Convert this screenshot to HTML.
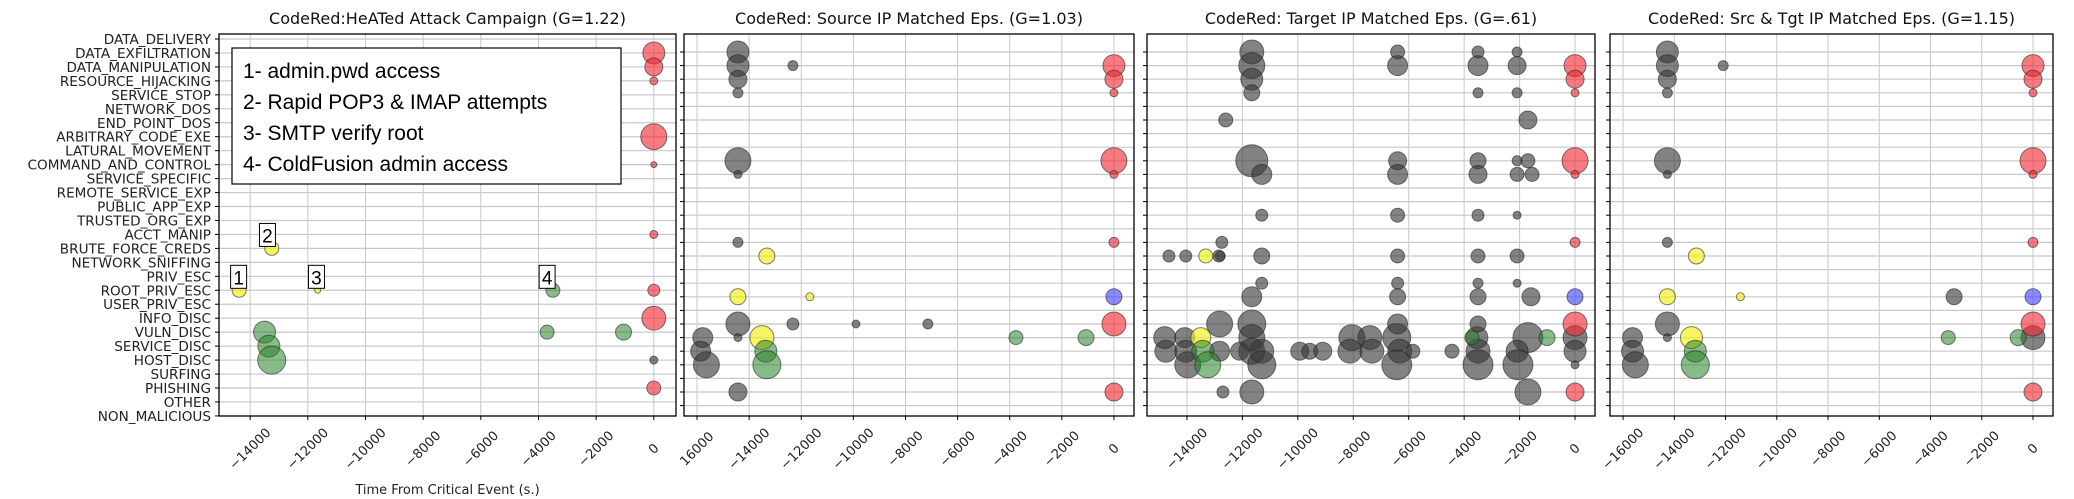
<!DOCTYPE html>
<html><head><meta charset="utf-8"><style>
html,body{margin:0;padding:0;background:#fff;}
svg{display:block;font-family:"DejaVu Sans","Liberation Sans",sans-serif;}
</style></head><body>
<svg id="chart" width="2074" height="499" viewBox="0 0 2074 499" xmlns="http://www.w3.org/2000/svg"></svg>
<script>
const categories=["DATA_DELIVERY","DATA_EXFILTRATION","DATA_MANIPULATION","RESOURCE_HIJACKING","SERVICE_STOP","NETWORK_DOS","END_POINT_DOS","ARBITRARY_CODE_EXE","LATURAL_MOVEMENT","COMMAND_AND_CONTROL","SERVICE_SPECIFIC","REMOTE_SERVICE_EXP","PUBLIC_APP_EXP","TRUSTED_ORG_EXP","ACCT_MANIP","BRUTE_FORCE_CREDS","NETWORK_SNIFFING","PRIV_ESC","ROOT_PRIV_ESC","USER_PRIV_ESC","INFO_DISC","VULN_DISC","SERVICE_DISC","HOST_DISC","SURFING","PHISHING","OTHER","NON_MALICIOUS"];
const titles=["CodeRed:HeATed Attack Campaign (G=1.22)","CodeRed: Source IP Matched Eps. (G=1.03)","CodeRed: Target IP Matched Eps. (G=.61)","CodeRed: Src & Tgt IP Matched Eps. (G=1.15)"];
const ticks1=[-14000,-12000,-10000,-8000,-6000,-4000,-2000,0];
const ticks2=[-16000,-14000,-12000,-10000,-8000,-6000,-4000,-2000,0];
const tickLabels1=["−14000","−12000","−10000","−8000","−6000","−4000","−2000","0"];
const tickLabels2=["16000","−14000","−12000","−10000","−8000","−6000","−4000","−2000","0"];
const tickLabels4=["−16000","−14000","−12000","−10000","−8000","−6000","−4000","−2000","0"];
const legendItems=["1- admin.pwd access","2- Rapid POP3 & IMAP attempts","3- SMTP verify root","4- ColdFusion admin access"];
const annoLabels=["1","2","3","4"];
const annoX=[-14400,-13400,-11700,-3700];
const annoRow=[17,14,17,17];

// Panel 1 data
const p1X=[0,0,0,0,0,0,0,0,0,0,-14380,-13250,-11660,-13500,-13350,-13250,-3500,-3700,-1050];
const p1Row=[1,2,3,7,9,14,18,20,23,25,18,15,18,21,22,23,18,21,21];
const p1R=[11,9,4,13,3,4,6,12,4,7,7,7,3,11,11,14,7,7,8];
const p1C=["r","r","r","r","r","r","r","r","k","r","y","y","y","g","g","g","g","g","g"];
// Panel 2 data
const p2X=[-14430,-14430,-14430,-14430,-14430,-14430,-14430,-14430,-14430,-12320,-12320,-9900,-7140,-15780,-15860,-15640,-14430,-13320,-14430,-11670,-13510,-13360,-13320,-3760,-1070,0,0,0,0,0,0,0,0,0];
const p2Row=[0,1,2,3,8,9,14,20,21,1,20,20,20,21,22,23,25,15,18,18,21,22,23,21,21,1,2,3,8,9,14,18,20,25];
const p2R=[11,11,9,5,13,4,5,12,4,5,6,4,5,10,10,13,9,8,8,4,12,11,14,7,8,11,9,4,13,4,5,8,12,9];
const p2C=["k","k","k","k","k","k","k","k","k","k","k","k","k","k","k","k","k","y","y","y","y","g","g","g","g","r","r","r","r","r","r","b","r","r"];
// Panel 3 data
const p3X=[-11660,-11660,-11660,-11660,-11660,-11660,-11660,-11660,-11660,-11660,-11300,-11300,-11300,-11300,-11300,-11300,-12600,-12740,-12800,-12820,-14650,-14040,-12850,-14800,-14080,-14760,-14040,-12820,-12100,-13970,-12700,-8050,-7400,-6430,-3540,-1700,-9930,-9570,-9100,-8120,-7330,-6320,-5850,-4440,-3500,-2090,-6430,-3500,-2060,-6400,-6400,-6400,-6400,-6400,-6400,-6400,-6400,-6400,-3500,-3500,-3500,-3500,-3500,-3500,-3500,-3500,-3500,-3500,-2090,-2090,-2090,-2090,-2090,-2090,-2090,-2090,-1700,-1700,-1550,-1590,-1700,0,0,0,0,0,0,0,0,0,-13320,-13500,-13430,-13250,-3720,-1010,0,0,0];
const p3Row=[0,1,2,3,8,20,21,22,25,18,9,12,15,17,23,22,5,14,15,20,15,15,15,21,21,22,22,22,22,23,25,21,21,21,21,21,22,22,22,22,22,22,22,22,22,22,23,23,23,0,1,8,9,12,15,17,18,20,0,1,3,8,9,12,15,17,18,20,0,1,3,8,9,12,15,17,5,8,9,18,25,21,22,23,1,2,3,8,9,14,15,21,22,23,21,21,18,20,25];
const p3R=[12,13,11,8,16,14,13,13,12,10,10,6,8,6,14,12,7,6,5,13,6,6,6,11,10,11,11,10,9,13,6,13,12,14,11,15,9,8,9,12,12,12,7,7,12,11,15,15,15,7,10,9,10,7,7,6,8,10,6,10,5,8,9,6,7,5,8,8,5,9,5,5,7,4,7,4,9,7,7,9,13,12,11,4,11,9,4,13,4,5,7,10,11,13,7,8,8,12,9];
const p3C=["k","k","k","k","k","k","k","k","k","k","k","k","k","k","k","k","k","k","k","k","k","k","k","k","k","k","k","k","k","k","k","k","k","k","k","k","k","k","k","k","k","k","k","k","k","k","k","k","k","k","k","k","k","k","k","k","k","k","k","k","k","k","k","k","k","k","k","k","k","k","k","k","k","k","k","k","k","k","k","k","k","k","k","k","r","r","r","r","r","r","y","y","g","g","g","g","b","r","r"];
// Panel 4 data
const p4X=[-14270,-14270,-14270,-14270,-14270,-14270,-14270,-14270,-14270,-12090,-3080,-15630,-15630,-15520,0,-14270,-13140,-11420,-13330,-13180,-13180,-3310,-580,0,0,0,0,0,0,0,0,0];
const p4Row=[0,1,2,3,8,9,14,20,21,1,18,21,22,23,21,18,15,18,21,22,23,21,21,1,2,3,8,9,14,18,20,25];
const p4R=[11,11,9,5,13,4,5,12,4,5,8,10,11,13,12,8,8,4,11,11,14,7,8,11,9,4,13,4,5,8,12,9];
const p4C=["k","k","k","k","k","k","k","k","k","k","k","k","k","k","k","y","y","y","y","g","g","g","g","r","r","r","r","r","r","b","r","r"];

const NS="http://www.w3.org/2000/svg";
const svg=document.getElementById('chart');
function mk(tag,attrs,parent){const e=document.createElementNS(NS,tag);for(const k in attrs)e.setAttribute(k,attrs[k]);(parent||svg).appendChild(e);return e;}
const fills={r:"rgba(240,40,50,0.62)",k:"rgba(55,55,55,0.62)",y:"rgba(240,240,20,0.65)",g:"rgba(40,130,40,0.55)",b:"rgba(60,60,255,0.6)"};

const panels=[
 {l:219,r:676,x0:-15080,x1:770,y0:39,dy:13.96,ticks:ticks1,labels:tickLabels1,X:p1X,R:p1Row,S:p1R,C:p1C},
 {l:684,r:1134,x0:-16500,x1:770,y0:52,dy:13.6,ticks:ticks2,labels:tickLabels2,X:p2X,R:p2Row,S:p2R,C:p2C},
 {l:1147,r:1595,x0:-15440,x1:720,y0:52,dy:13.6,ticks:ticks1,labels:tickLabels1,X:p3X,R:p3Row,S:p3R,C:p3C},
 {l:1610,r:2053,x0:-16510,x1:780,y0:52,dy:13.6,ticks:ticks2,labels:tickLabels4,X:p4X,R:p4Row,S:p4R,C:p4C}
];
const TOP=34,BOT=416;
panels.forEach((p,pi)=>{
 const g=mk('g',{});
 
 
 const xs=v=>p.l+(v-p.x0)/(p.x1-p.x0)*(p.r-p.l);
 const ys=i=>p.y0+i*p.dy;
 mk('defs',{},g).innerHTML=`<clipPath id="clip${pi}"><rect x="${p.l}" y="${TOP}" width="${p.r-p.l}" height="${BOT-TOP}"/></clipPath>`;
 // horizontal grid
 categories.forEach((c,i)=>{const y=ys(i);if(y>BOT||y<TOP)return;
  const ln=mk('line',{x1:p.l,x2:p.r,y1:y,y2:y,stroke:"#c8c8c8","stroke-width":1.2},g);
  
  
  mk('line',{x1:p.l-4,x2:p.l,y1:y,y2:y,stroke:"#000","stroke-width":1},g);
 });
 // vertical grid + ticks
 p.ticks.forEach((t,i)=>{const x=xs(t);
  const ln=mk('line',{x1:x,x2:x,y1:TOP,y2:BOT,stroke:"#c8c8c8","stroke-width":1},g);
  
  
  mk('line',{x1:x,x2:x,y1:BOT,y2:BOT+4,stroke:"#000","stroke-width":1},g);
  const tx=mk('text',{x:x,y:BOT+37,"font-size":13,"text-anchor":"middle",fill:"#222",transform:`rotate(-45 ${x} ${BOT+33})`},g);
  tx.textContent=p.labels[i];
  
  
 });
 // bubbles
 const bg=mk('g',{"clip-path":`url(#clip${pi})`},g);
 p.X.forEach((v,i)=>{
  const c=mk('circle',{cx:xs(v),cy:ys(p.R[i]),r:p.S[i],fill:fills[p.C[i]],stroke:"rgba(40,40,40,0.6)","stroke-width":1},bg);
  
  
 });
 // frame
 const fr=mk('rect',{x:p.l,y:TOP,width:p.r-p.l,height:BOT-TOP,fill:"none",stroke:"#000","stroke-width":1.3},g);
 
 
 const tt=mk('text',{x:(p.l+p.r)/2,y:24,"font-size":16,"text-anchor":"middle",fill:"#111"},g);
 tt.textContent=titles[pi];
 
 
 if(pi===0){
  categories.forEach((c,i)=>{
   const t=mk('text',{x:p.l-8,y:ys(i)+5,"font-size":13.6,"text-anchor":"end",fill:"#222"},g);
   t.textContent=c;
   
   
  });
  const xt=mk('text',{x:(p.l+p.r)/2,y:494,"font-size":13,"text-anchor":"middle",fill:"#222"},g);
  xt.textContent="Time From Critical Event (s.)";
  
  
  // legend
  const lg=mk('g',{},g);
  
  
  mk('rect',{x:232,y:48,width:389,height:136,fill:"#fff",stroke:"#000","stroke-width":1.2},lg);
  legendItems.forEach((s,i)=>{
   const t=mk('text',{x:243,y:78+i*31,"font-size":21,fill:"#000","font-family":"Liberation Sans, sans-serif"},lg);
   t.textContent=s;
   
   
  });
  // annotations
  annoLabels.forEach((s,i)=>{
   const x=xs(annoX[i]),y=ys(annoRow[i])+1;
   const a=mk('g',{},g);
   
   
   mk('rect',{x:x-8,y:y-12,width:16,height:23,fill:"#fff",stroke:"#000","stroke-width":1},a);
   const t=mk('text',{x:x,y:y+7,"font-size":19,"text-anchor":"middle",fill:"#000","font-family":"Liberation Sans, sans-serif"},a);
   t.textContent=s;
  });
 }
});
</script>
</body></html>
